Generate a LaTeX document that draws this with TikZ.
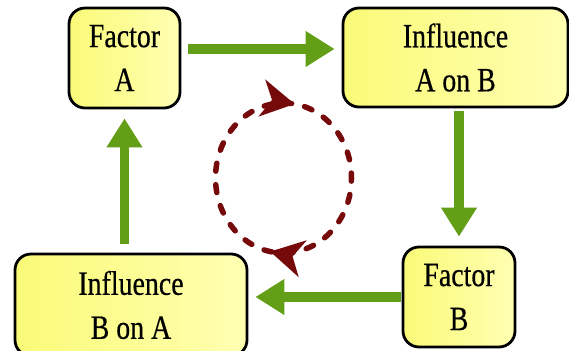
\documentclass[tikz,border=0pt]{standalone}
\usepackage{fontspec}
\setmainfont[FakeStretch=0.82,FakeBold=0.5]{Liberation Serif}
\usetikzlibrary{arrows.meta,decorations.markings}
\definecolor{boxfillL}{RGB}{250,250,120}
\definecolor{boxfillR}{RGB}{255,255,178}
\definecolor{flowgreen}{RGB}{98,158,22}
\definecolor{loopred}{RGB}{118,10,10}
\begin{document}
\begin{tikzpicture}[x=1pt,y=1pt,
  factorbox/.style={draw=black, line width=2.8pt, rounded corners=16pt,
    left color=boxfillL, right color=boxfillR, inner sep=0pt, align=center,
    font=\fontsize{34}{44}\selectfont},
  flow/.style={draw=flowgreen, line width=9.5pt,
    -{Triangle[length=29pt,width=34pt]}},
  loop/.style={draw=loopred, line width=5.5pt, line cap=round,
    dash pattern=on 8pt off 13.5pt}
]
\useasboundingbox (0,0) rectangle (569,350);
\fill[white] (0,0) rectangle (569,350);

\node[factorbox, minimum width=111pt, minimum height=100pt] (fa) at (124.5,292) {Factor\\A};
\node[factorbox, minimum width=225pt, minimum height=99pt] (iab) at (455.5,292.5) {Influence\\A on B};
\node[factorbox, minimum width=112pt, minimum height=100pt] (fb) at (459,53) {Factor\\B};
\node[factorbox, minimum width=232pt, minimum height=102pt] (iba) at (131,45) {Influence\\B on A};

\draw[flow, shorten <=7pt, shorten >=7pt] ([yshift=9pt]fa.east) -- ([yshift=8.5pt]iab.west);
\draw[flow, shorten <=3pt, shorten >=9pt] (iab.south -| fb.north) -- (fb.north);
\draw[flow, shorten <=1pt, shorten >=7pt] (fb.west) -- (fb.west -| iba.east);
\draw[flow, shorten <=9pt, shorten >=9pt] (iba.north -| fa.south) -- (fa.south);

\coordinate (lc) at (283.5,172);
\draw[loop, postaction={decorate},
  decoration={markings,
    mark=at position 0.025 with {\arrow[loopred]{Stealth[length=33pt,width=37pt,inset=10pt]}},
    mark=at position 0.53 with {\arrow[loopred]{Stealth[length=33pt,width=37pt,inset=10pt]}}}]
  (lc) ++(0,75) arc[start angle=90, end angle=-270, x radius=68, y radius=75];
\end{tikzpicture}
\end{document}
